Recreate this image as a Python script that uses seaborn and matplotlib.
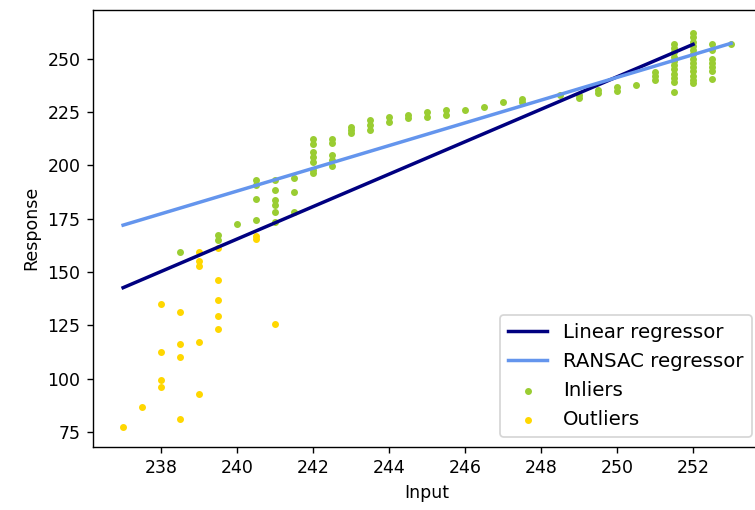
import matplotlib
matplotlib.use("Agg")
import matplotlib.pyplot as plt
import seaborn as sns
import pandas as pd

# Inlier samples: (input, response)
inlier_x = [238.5, 239.5, 239.5, 240.0,
            240.5, 240.5, 240.5, 240.5,
            241.0, 241.0, 241.0, 241.0, 241.0, 241.0,
            241.5, 241.5, 241.5,
            242.0, 242.0, 242.0, 242.0, 242.0, 242.0, 242.0,
            242.5, 242.5, 242.5, 242.5, 242.5,
            243.0, 243.0, 243.0,
            243.5, 243.5, 243.5,
            244.0, 244.0, 244.5, 244.5, 245.0, 245.0, 245.5, 245.5,
            246.0, 246.5, 247.0, 247.5, 247.5,
            248.5, 249.0, 249.0, 249.5, 249.5, 250.0, 250.0, 250.5,
            251.0, 251.0, 251.0,
            251.5, 251.5, 251.5, 251.5, 251.5, 251.5, 251.5, 251.5, 251.5, 251.5, 251.5,
            252.0, 252.0, 252.0, 252.0, 252.0, 252.0, 252.0, 252.0, 252.0, 252.0, 252.0, 252.0, 252.0,
            252.5, 252.5, 252.5, 252.5, 252.5, 252.5, 252.5,
            253.0]
inlier_y = [159.3, 167.4, 165.1, 172.4,
            193.2, 191.0, 184.3, 174.4,
            193.2, 188.5, 183.8, 181.5, 178.3, 173.7,
            194.3, 187.7, 178.3,
            212.2, 210.0, 206.4, 204.1, 201.7, 197.9, 196.3,
            212.2, 210.4, 204.9, 202.6, 199.7,
            218.2, 216.5, 215.1,
            221.3, 219.0, 216.6,
            222.8, 220.5, 223.6, 222.0, 225.2, 222.8, 226.0, 223.6,
            226.0, 227.5, 229.9, 231.0, 229.9,
            233.0, 233.0, 231.4, 235.3, 233.8, 236.9, 235.0, 237.7,
            243.9, 242.0, 240.0,
            257.0, 255.0, 253.0, 251.0, 249.0, 247.0, 245.0, 243.0, 241.0, 239.0, 234.5,
            262.0, 260.0, 258.0, 256.0, 254.0, 252.0, 250.0, 248.0, 246.0, 244.0, 242.0, 240.0, 238.5,
            257.0, 254.0, 250.0, 248.0, 246.0, 244.0, 240.5,
            257.0]

# Outlier samples: (input, response)
outlier_x = [237.0, 237.5,
             238.0, 238.0, 238.0, 238.0,
             238.5, 238.5, 238.5, 238.5,
             239.0, 239.0, 239.0, 239.0, 239.0,
             239.5, 239.5, 239.5, 239.5, 239.5,
             240.5, 240.5, 241.0]
outlier_y = [77.6, 87.0,
             135.1, 112.5, 99.5, 96.4,
             131.2, 116.2, 110.4, 81.4,
             159.6, 155.4, 152.9, 117.2, 92.8,
             161.2, 146.2, 136.8, 129.3, 123.5,
             167.0, 165.5, 125.6]

# Fitted lines (endpoints)
linear_x = [237.0, 252.0]
linear_y = [142.7, 256.7]
ransac_x = [237.0, 253.0]
ransac_y = [172.0, 257.2]

inliers = pd.DataFrame({"Input": inlier_x, "Response": inlier_y})
outliers = pd.DataFrame({"Input": outlier_x, "Response": outlier_y})

fig = plt.figure(figsize=(6.04, 4.08), dpi=125)
ax = fig.add_axes([0.1228, 0.1241, 0.8858, 0.8563])

sns.lineplot(x=linear_x, y=linear_y, color="navy", linewidth=2,
             label="Linear regressor", ax=ax)
sns.lineplot(x=ransac_x, y=ransac_y, color="cornflowerblue", linewidth=2,
             label="RANSAC regressor", ax=ax)
sns.scatterplot(data=inliers, x="Input", y="Response", color="yellowgreen",
                edgecolor="yellowgreen", marker=".", s=36, linewidth=1,
                label="Inliers", ax=ax)
sns.scatterplot(data=outliers, x="Input", y="Response", color="gold",
                edgecolor="gold", marker=".", s=36, linewidth=1,
                label="Outliers", ax=ax)

ax.set_xlim(236.2, 253.8)
ax.set_ylim(68.2, 272.8)
ax.set_xticks([238, 240, 242, 244, 246, 248, 250, 252])
ax.set_yticks([75, 100, 125, 150, 175, 200, 225, 250])
ax.set_xlabel("Input")
ax.set_ylabel("Response")
ax.legend(loc="lower right", fontsize=11.4)

fig.savefig("out.png", dpi=125)
